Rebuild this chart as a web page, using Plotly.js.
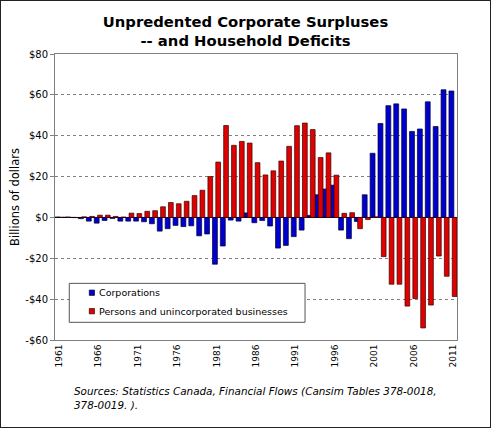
<!DOCTYPE html>
<html>
<head>
<meta charset="utf-8">
<script src="https://cdn.plot.ly/plotly-3.0.1.min.js"></script>
<style>
  html, body { margin: 0; padding: 0; background: #fff; }
  #wrap { position: relative; width: 491px; height: 428px; }
  #chart { width: 491px; height: 428px; }
  #frame { position: absolute; left: 0; top: 0; width: 491px; height: 428px; box-sizing: border-box; border: 1px solid #222; pointer-events: none; }
</style>
</head>
<body>
<div id="wrap"><div id="chart"></div><div id="frame"></div></div>
<script>
// Years (categories)
const years = [1961,1962,1963,1964,1965,1966,1967,1968,1969,1970,
               1971,1972,1973,1974,1975,1976,1977,1978,1979,1980,
               1981,1982,1983,1984,1985,1986,1987,1988,1989,1990,
               1991,1992,1993,1994,1995,1996,1997,1998,1999,2000,
               2001,2002,2003,2004,2005,2006,2007,2008,2009,2010,2011];

// Corporations net lending (billions of dollars)
const corporations = [0.2,0.1,0.0,-0.6,-1.8,-2.8,-1.5,-0.5,-1.8,-1.8,
                      -1.8,-2.1,-3.1,-6.7,-5.5,-3.9,-4.5,-4.1,-9.0,-8.1,
                      -22.9,-14.0,-1.3,-1.8,2.2,-2.6,-1.5,-4.2,-15.0,-13.7,
                      -9.4,-6.2,1.0,11.1,13.9,15.8,-6.2,-10.4,-2.0,11.1,
                      31.4,46.0,54.7,55.6,53.1,42.1,43.3,56.6,44.5,62.5,61.9];

// Persons and unincorporated businesses net lending (billions of dollars)
const persons = [0.1,0.2,-0.1,0.3,0.5,1.1,1.1,0.5,0.2,2.1,
                 1.9,3.0,3.3,5.2,7.3,6.7,7.9,10.7,13.3,20.0,
                 27.1,45.0,35.3,37.2,36.4,26.8,20.8,22.8,27.6,34.8,
                 44.9,46.2,43.0,29.3,31.6,20.7,2.0,2.3,-5.5,-1.0,
                 0.3,-19.2,-32.7,-32.7,-43.4,-39.7,-54.1,-42.9,-18.9,-28.8,-38.7];

// Axis tick labels
const xTickVals = [1961,1966,1971,1976,1981,1986,1991,1996,2001,2006,2011];
const xTickText = ['1961','1966','1971','1976','1981','1986','1991','1996','2001','2006','2011'];
const yTickVals = [-60,-40,-20,0,20,40,60,80];
const yTickText = ['-$60','-$40','-$20','$0','$20','$40','$60','$80'];

const seriesNames = ['Corporations', 'Persons and unincorporated businesses'];
const seriesColors = ['#0000cc', '#e00000'];
const FONT = 'DejaVu Sans, Verdana, sans-serif';

const traces = [
  {
    type: 'bar', name: seriesNames[0], x: years, y: corporations,
    offset: -0.52, width: 0.62,
    marker: { color: seriesColors[0], line: { color: '#000033', width: 0.7 } },
    hoverinfo: 'skip', showlegend: false
  },
  {
    type: 'bar', name: seriesNames[1], x: years, y: persons,
    offset: -0.1, width: 0.6,
    marker: { color: seriesColors[1], line: { color: '#330000', width: 0.7 } },
    hoverinfo: 'skip', showlegend: false
  }
];

// Custom legend (box + swatches + labels) in paper coordinates
const legendShapes = [
  { type: 'rect', xref: 'paper', yref: 'paper', x0: 0.0355, x1: 0.622, y0: 0.0618, y1: 0.198,
    fillcolor: '#ffffff', line: { color: '#555555', width: 1 }, layer: 'above' },
  { type: 'rect', xref: 'paper', yref: 'paper', x0: 0.0853, x1: 0.0982, y0: 0.156, y1: 0.1745,
    fillcolor: seriesColors[0], line: { color: '#000033', width: 0.7 }, layer: 'above' },
  { type: 'rect', xref: 'paper', yref: 'paper', x0: 0.0853, x1: 0.0982, y0: 0.0915, y1: 0.110,
    fillcolor: seriesColors[1], line: { color: '#330000', width: 0.7 }, layer: 'above' }
];
const legendLabels = [
  { text: seriesNames[0], xref: 'paper', yref: 'paper', x: 0.1044, y: 0.165, xanchor: 'left', yanchor: 'middle',
    showarrow: false, font: { family: FONT, size: 9.5, color: '#000' } },
  { text: seriesNames[1], xref: 'paper', yref: 'paper', x: 0.1044, y: 0.1005, xanchor: 'left', yanchor: 'middle',
    showarrow: false, font: { family: FONT, size: 9.5, color: '#000' } }
];

const layout = {
  width: 491, height: 428,
  margin: { l: 55, r: 34, t: 54, b: 88, pad: 0 },
  paper_bgcolor: '#ffffff', plot_bgcolor: '#ffffff',
  barmode: 'overlay',
  font: { family: FONT, size: 10, color: '#000' },
  title: {
    text: '<b>Unpredented Corporate Surpluses<br>-- and Household Deficits</b>',
    font: { family: FONT, size: 14.8, color: '#000' },
    xref: 'container', x: 0.5, xanchor: 'center',
    yref: 'container', y: 0.937, yanchor: 'middle'
  },
  xaxis: {
    range: [1960.5, 2011.5],
    tickmode: 'array', tickvals: xTickVals, ticktext: xTickText,
    tickangle: -90, tickfont: { family: FONT, size: 9, color: '#000' },
    ticks: '', showgrid: false, zeroline: false,
    showline: true, linecolor: '#808080', linewidth: 1, mirror: true
  },
  yaxis: {
    range: [-60, 80],
    tickmode: 'array', tickvals: yTickVals, ticktext: yTickText,
    tickfont: { family: FONT, size: 10, color: '#000' },
    ticks: 'outside', ticklen: 4, tickcolor: '#808080',
    showgrid: true, gridcolor: '#808080', griddash: 'dot', gridwidth: 1,
    zeroline: true, zerolinecolor: '#000000', zerolinewidth: 1,
    showline: true, linecolor: '#808080', linewidth: 1, mirror: true,
    title: { text: 'Billions of dollars', font: { family: FONT, size: 11.5, color: '#000' }, standoff: 3 }
  },
  showlegend: false,
  shapes: legendShapes,
  annotations: legendLabels.concat([
    {
      text: '<i>Sources: Statistics Canada, Financial Flows (Cansim Tables 378-0018,<br>378-0019. ).</i>',
      xref: 'paper', yref: 'paper', x: 0.042, y: -0.15, xanchor: 'left', yanchor: 'top',
      align: 'left', showarrow: false,
      font: { family: FONT, size: 10.4, color: '#000' }
    }
  ])
};

Plotly.newPlot('chart', traces, layout, { displayModeBar: false, staticPlot: true });
</script>
</body>
</html>
